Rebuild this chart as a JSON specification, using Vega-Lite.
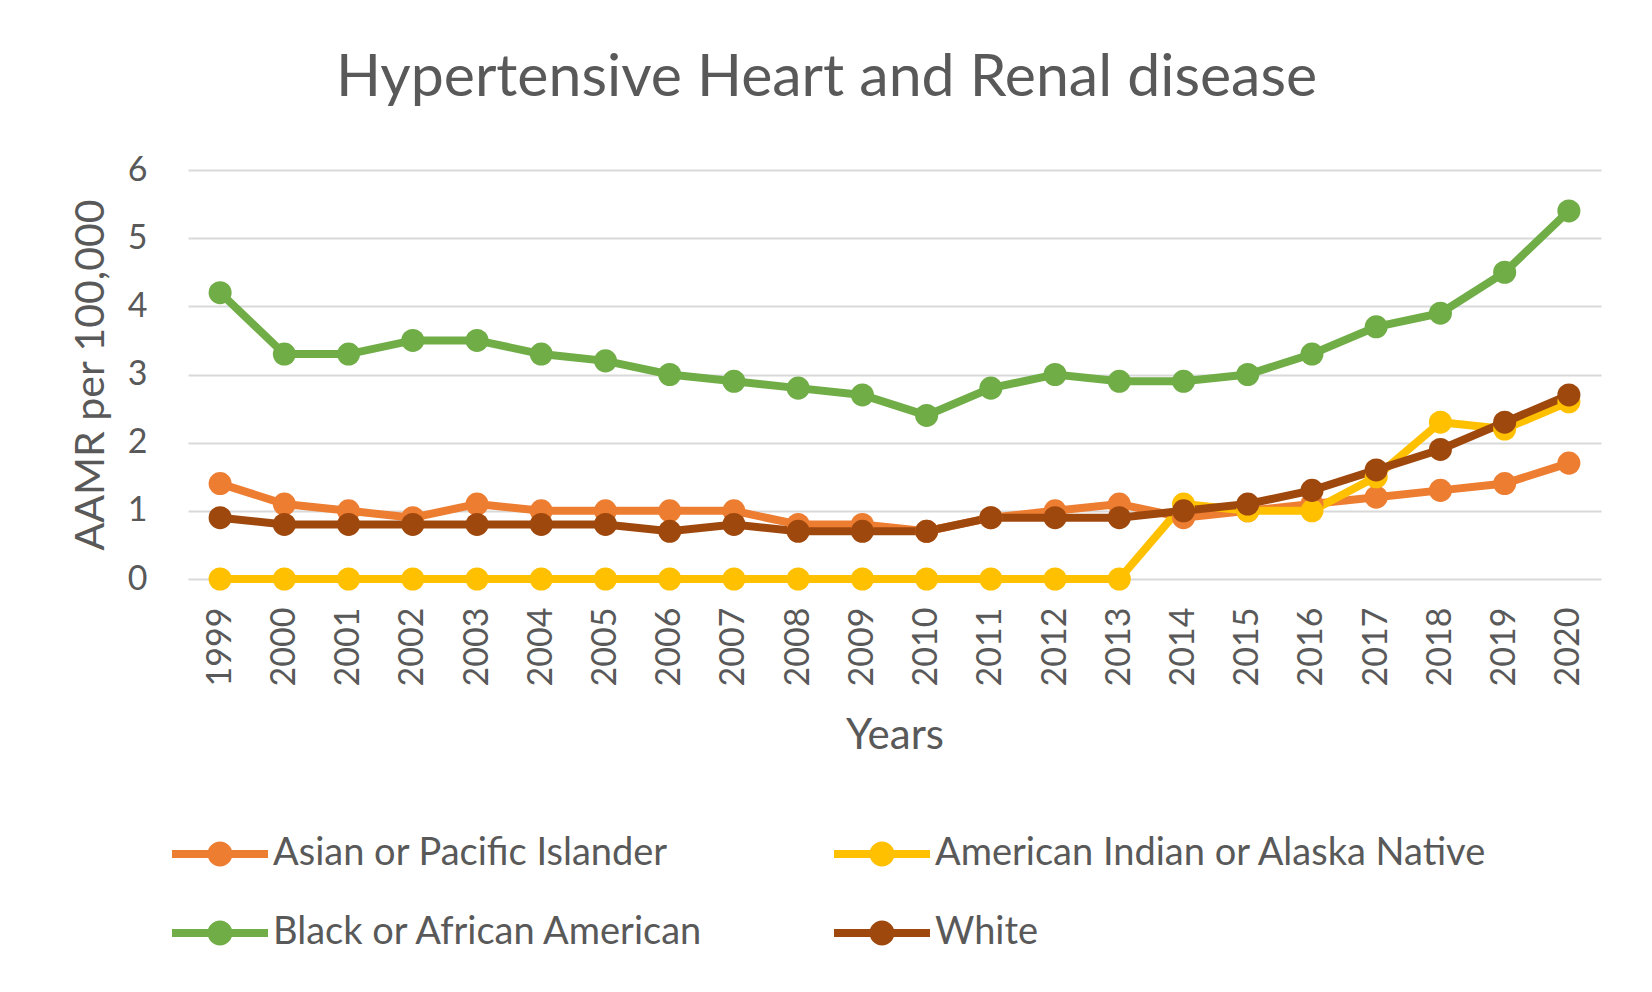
{
  "$schema": "https://vega.github.io/schema/vega-lite/v6.json",
  "autosize": "none",
  "width": 1413,
  "height": 409,
  "padding": {"left": 188, "top": 170, "right": 51, "bottom": 413},
  "background": "white",
  "title": {
    "text": "Hypertensive Heart and Renal disease",
    "anchor": "middle",
    "frame": "group",
    "dx": -68,
    "dy": 9,
    "offset": 7,
    "baseline": "alphabetic",
    "font": "Lato",
    "fontSize": 59,
    "fontWeight": "normal",
    "color": "#595959"
  },
  "config": {
    "view": {"stroke": null},
    "font": "Lato",
    "axis": {
      "labelFont": "Lato",
      "titleFont": "Lato",
      "labelColor": "#595959",
      "titleColor": "#595959",
      "titleFontWeight": "normal",
      "labelFontSize": 34,
      "titleFontSize": 42
    }
  },
  "data": {
    "values": [
      {"year": "1999", "group": "Asian or Pacific Islander", "value": 1.4},
      {"year": "2000", "group": "Asian or Pacific Islander", "value": 1.1},
      {"year": "2001", "group": "Asian or Pacific Islander", "value": 1.0},
      {"year": "2002", "group": "Asian or Pacific Islander", "value": 0.9},
      {"year": "2003", "group": "Asian or Pacific Islander", "value": 1.1},
      {"year": "2004", "group": "Asian or Pacific Islander", "value": 1.0},
      {"year": "2005", "group": "Asian or Pacific Islander", "value": 1.0},
      {"year": "2006", "group": "Asian or Pacific Islander", "value": 1.0},
      {"year": "2007", "group": "Asian or Pacific Islander", "value": 1.0},
      {"year": "2008", "group": "Asian or Pacific Islander", "value": 0.8},
      {"year": "2009", "group": "Asian or Pacific Islander", "value": 0.8},
      {"year": "2010", "group": "Asian or Pacific Islander", "value": 0.7},
      {"year": "2011", "group": "Asian or Pacific Islander", "value": 0.9},
      {"year": "2012", "group": "Asian or Pacific Islander", "value": 1.0},
      {"year": "2013", "group": "Asian or Pacific Islander", "value": 1.1},
      {"year": "2014", "group": "Asian or Pacific Islander", "value": 0.9},
      {"year": "2015", "group": "Asian or Pacific Islander", "value": 1.0},
      {"year": "2016", "group": "Asian or Pacific Islander", "value": 1.1},
      {"year": "2017", "group": "Asian or Pacific Islander", "value": 1.2},
      {"year": "2018", "group": "Asian or Pacific Islander", "value": 1.3},
      {"year": "2019", "group": "Asian or Pacific Islander", "value": 1.4},
      {"year": "2020", "group": "Asian or Pacific Islander", "value": 1.7},
      {"year": "1999", "group": "American Indian or Alaska Native", "value": 0},
      {"year": "2000", "group": "American Indian or Alaska Native", "value": 0},
      {"year": "2001", "group": "American Indian or Alaska Native", "value": 0},
      {"year": "2002", "group": "American Indian or Alaska Native", "value": 0},
      {"year": "2003", "group": "American Indian or Alaska Native", "value": 0},
      {"year": "2004", "group": "American Indian or Alaska Native", "value": 0},
      {"year": "2005", "group": "American Indian or Alaska Native", "value": 0},
      {"year": "2006", "group": "American Indian or Alaska Native", "value": 0},
      {"year": "2007", "group": "American Indian or Alaska Native", "value": 0},
      {"year": "2008", "group": "American Indian or Alaska Native", "value": 0},
      {"year": "2009", "group": "American Indian or Alaska Native", "value": 0},
      {"year": "2010", "group": "American Indian or Alaska Native", "value": 0},
      {"year": "2011", "group": "American Indian or Alaska Native", "value": 0},
      {"year": "2012", "group": "American Indian or Alaska Native", "value": 0},
      {"year": "2013", "group": "American Indian or Alaska Native", "value": 0},
      {"year": "2014", "group": "American Indian or Alaska Native", "value": 1.1},
      {"year": "2015", "group": "American Indian or Alaska Native", "value": 1.0},
      {"year": "2016", "group": "American Indian or Alaska Native", "value": 1.0},
      {"year": "2017", "group": "American Indian or Alaska Native", "value": 1.5},
      {"year": "2018", "group": "American Indian or Alaska Native", "value": 2.3},
      {"year": "2019", "group": "American Indian or Alaska Native", "value": 2.2},
      {"year": "2020", "group": "American Indian or Alaska Native", "value": 2.6},
      {"year": "1999", "group": "Black or African American", "value": 4.2},
      {"year": "2000", "group": "Black or African American", "value": 3.3},
      {"year": "2001", "group": "Black or African American", "value": 3.3},
      {"year": "2002", "group": "Black or African American", "value": 3.5},
      {"year": "2003", "group": "Black or African American", "value": 3.5},
      {"year": "2004", "group": "Black or African American", "value": 3.3},
      {"year": "2005", "group": "Black or African American", "value": 3.2},
      {"year": "2006", "group": "Black or African American", "value": 3.0},
      {"year": "2007", "group": "Black or African American", "value": 2.9},
      {"year": "2008", "group": "Black or African American", "value": 2.8},
      {"year": "2009", "group": "Black or African American", "value": 2.7},
      {"year": "2010", "group": "Black or African American", "value": 2.4},
      {"year": "2011", "group": "Black or African American", "value": 2.8},
      {"year": "2012", "group": "Black or African American", "value": 3.0},
      {"year": "2013", "group": "Black or African American", "value": 2.9},
      {"year": "2014", "group": "Black or African American", "value": 2.9},
      {"year": "2015", "group": "Black or African American", "value": 3.0},
      {"year": "2016", "group": "Black or African American", "value": 3.3},
      {"year": "2017", "group": "Black or African American", "value": 3.7},
      {"year": "2018", "group": "Black or African American", "value": 3.9},
      {"year": "2019", "group": "Black or African American", "value": 4.5},
      {"year": "2020", "group": "Black or African American", "value": 5.4},
      {"year": "1999", "group": "White", "value": 0.9},
      {"year": "2000", "group": "White", "value": 0.8},
      {"year": "2001", "group": "White", "value": 0.8},
      {"year": "2002", "group": "White", "value": 0.8},
      {"year": "2003", "group": "White", "value": 0.8},
      {"year": "2004", "group": "White", "value": 0.8},
      {"year": "2005", "group": "White", "value": 0.8},
      {"year": "2006", "group": "White", "value": 0.7},
      {"year": "2007", "group": "White", "value": 0.8},
      {"year": "2008", "group": "White", "value": 0.7},
      {"year": "2009", "group": "White", "value": 0.7},
      {"year": "2010", "group": "White", "value": 0.7},
      {"year": "2011", "group": "White", "value": 0.9},
      {"year": "2012", "group": "White", "value": 0.9},
      {"year": "2013", "group": "White", "value": 0.9},
      {"year": "2014", "group": "White", "value": 1.0},
      {"year": "2015", "group": "White", "value": 1.1},
      {"year": "2016", "group": "White", "value": 1.3},
      {"year": "2017", "group": "White", "value": 1.6},
      {"year": "2018", "group": "White", "value": 1.9},
      {"year": "2019", "group": "White", "value": 2.3},
      {"year": "2020", "group": "White", "value": 2.7}
    ]
  },
  "encoding": {
    "x": {
      "field": "year",
      "type": "ordinal",
      "sort": null,
      "scale": {"type": "point", "padding": 0.5},
      "axis": {
        "title": "Years",
        "labelAngle": 270,
        "labelAlign": "right",
        "labelBaseline": "middle",
        "labelPadding": 28,
        "ticks": false,
        "tickSize": 0,
        "domain": false,
        "grid": false,
        "titlePadding": 30
      }
    },
    "y": {
      "field": "value",
      "type": "quantitative",
      "scale": {"domain": [0, 6], "nice": false},
      "axis": {
        "title": "AAMR per 100,000",
        "titleFontSize": 41,
        "values": [0, 1, 2, 3, 4, 5, 6],
        "grid": true,
        "gridColor": "#D9D9D9",
        "gridWidth": 2,
        "domain": false,
        "ticks": false,
        "tickSize": 0,
        "labelPadding": 41,
        "titlePadding": 15
      }
    },
    "color": {
      "field": "group",
      "type": "nominal",
      "sort": null,
      "scale": {
        "domain": ["Asian or Pacific Islander", "American Indian or Alaska Native", "Black or African American", "White"],
        "range": ["#ED7D31", "#FFC000", "#70AD47", "#9E480E"]
      },
      "legend": {
        "title": null,
        "orient": "none",
        "legendX": -16,
        "legendY": 636,
        "columns": 2,
        "direction": "horizontal",
        "padding": 0,
        "columnPadding": 129,
        "rowPadding": 12,
        "symbolType": "M-1,-0.083 L1,-0.083 L1,0.083 L-1,0.083 Z M0.26,0 A0.26,0.26 0 1,1 -0.26,0 A0.26,0.26 0 1,1 0.26,0 Z",
        "symbolSize": 9216,
        "symbolStrokeWidth": 0,
        "labelFont": "Lato",
        "labelFontSize": 38,
        "labelColor": "#595959",
        "labelLimit": 1000,
        "labelOffset": 5,
        "encode": {
          "symbols": {
            "update": {
              "fill": {"scale": "color", "field": "value"},
              "fillOpacity": {"value": 1},
              "strokeWidth": {"value": 0}
            }
          }
        }
      }
    }
  },
  "layer": [
    {"mark": {"type": "line", "strokeWidth": 8}},
    {"mark": {"type": "point", "filled": true, "size": 530, "opacity": 1}}
  ]
}
